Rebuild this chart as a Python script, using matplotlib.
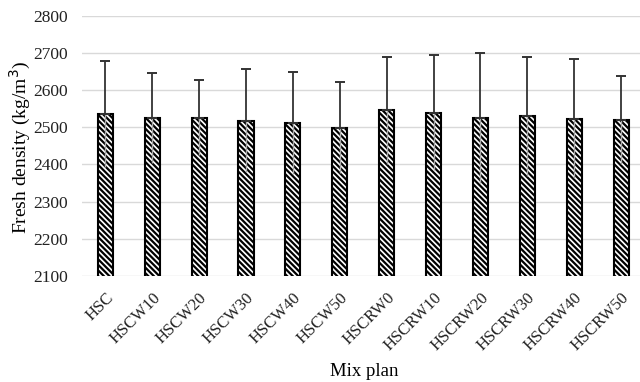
import matplotlib.pyplot as plt
import numpy as np

mixes = ["HSC", "HSCW10", "HSCW20", "HSCW30", "HSCW40", "HSCW50",
         "HSCRW0", "HSCRW10", "HSCRW20", "HSCRW30", "HSCRW40", "HSCRW50"]
density = [2535, 2524, 2526, 2518, 2511, 2499, 2546, 2539, 2525, 2529, 2523, 2519]
std_dev = [142, 121, 101, 139, 138, 123, 144, 154, 174, 161, 160, 118]

plt.rcParams["font.family"] = ["Liberation Serif", "DejaVu Serif"]
plt.rcParams["hatch.linewidth"] = 1.6

fig = plt.figure(figsize=(6.4, 3.82), dpi=100)
ax = fig.add_axes([0.128, 0.2775, 0.879, 0.6814])

x = np.arange(len(mixes))
ax.bar(x, density, width=0.32, bottom=0, color="white", edgecolor="black",
       linewidth=1.5, hatch="\\" * 6, zorder=2)

# lower half of the error bar shows faintly through the hatching
ax.errorbar(x, density, yerr=[std_dev, np.zeros(len(x))], fmt="none",
            ecolor="#aaaaaa", elinewidth=1.0, capsize=0, zorder=3)
ax.errorbar(x, density, yerr=[np.zeros(len(x)), std_dev], fmt="none",
            ecolor="#333333", elinewidth=1.3, capsize=3.3, capthick=1.4, zorder=3)

ax.set_ylim(2100, 2800)
ax.set_xlim(-0.5, len(mixes) - 0.5)
ax.set_yticks(range(2100, 2801, 100))
ax.grid(True, axis="y", color="#d9d9d9", linewidth=1.0, zorder=0)
ax.set_axisbelow(True)
for s in ax.spines.values():
    s.set_visible(False)
ax.tick_params(axis="both", length=0, colors="#222222")
ax.tick_params(axis="y", pad=10, labelsize=12.5)
ax.set_xticks(x)
ax.set_xticklabels(mixes, rotation=45, ha="right", va="top",
                   rotation_mode="anchor")
ax.tick_params(axis="x", pad=10, labelsize=12)

fig.text(20 / 640, 1 - 147 / 382, "Fresh density (kg/m$^3$)", rotation=90,
         ha="center", va="center", fontsize=14)
fig.text(364 / 640, 1 - 372 / 382, "Mix plan", ha="center", va="center",
         fontsize=13.5)

fig.savefig("out.png", dpi=100)
